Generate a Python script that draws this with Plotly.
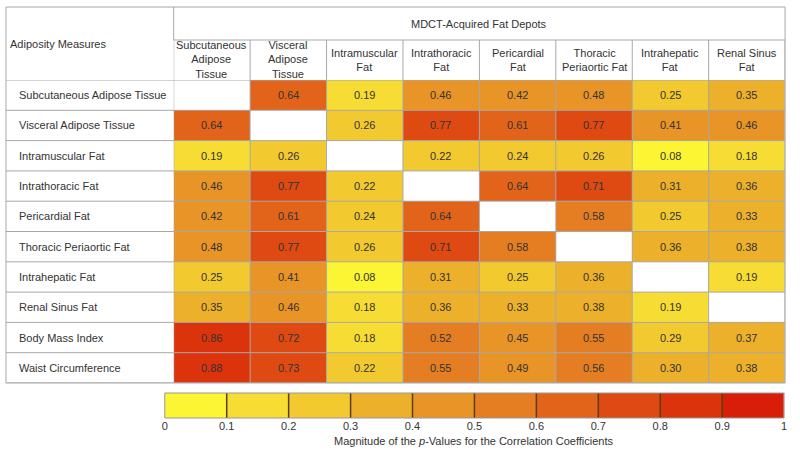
import plotly.graph_objects as go

# ---------------- data ----------------
depots = ["Subcutaneous<br>Adipose<br>Tissue", "Visceral<br>Adipose<br>Tissue", "Intramuscular<br>Fat",
          "Intrathoracic<br>Fat", "Pericardial<br>Fat", "Thoracic<br>Periaortic Fat",
          "Intrahepatic<br>Fat", "Renal Sinus<br>Fat"]
measures = ["Subcutaneous Adipose Tissue", "Visceral Adipose Tissue", "Intramuscular Fat",
            "Intrathoracic Fat", "Pericardial Fat", "Thoracic Periaortic Fat", "Intrahepatic Fat",
            "Renal Sinus Fat", "Body Mass Index", "Waist Circumference"]
row_sat = [None, 0.64, 0.19, 0.46, 0.42, 0.48, 0.25, 0.35]
row_vat = [0.64, None, 0.26, 0.77, 0.61, 0.77, 0.41, 0.46]
row_imf = [0.19, 0.26, None, 0.22, 0.24, 0.26, 0.08, 0.18]
row_itf = [0.46, 0.77, 0.22, None, 0.64, 0.71, 0.31, 0.36]
row_pcf = [0.42, 0.61, 0.24, 0.64, None, 0.58, 0.25, 0.33]
row_tpf = [0.48, 0.77, 0.26, 0.71, 0.58, None, 0.36, 0.38]
row_ihf = [0.25, 0.41, 0.08, 0.31, 0.25, 0.36, None, 0.19]
row_rsf = [0.35, 0.46, 0.18, 0.36, 0.33, 0.38, 0.19, None]
row_bmi = [0.86, 0.72, 0.18, 0.52, 0.45, 0.55, 0.29, 0.37]
row_wc = [0.88, 0.73, 0.22, 0.55, 0.49, 0.56, 0.30, 0.38]
z = [row_sat, row_vat, row_imf, row_itf, row_pcf, row_tpf, row_ihf, row_rsf, row_bmi, row_wc]

scale_bins = [0.05, 0.15, 0.25, 0.35, 0.45, 0.55, 0.65, 0.75, 0.85, 0.95]
scale_ticks = [0, 0.1, 0.2, 0.3, 0.4, 0.5, 0.6, 0.7, 0.8, 0.9, 1]
scale_ticklabels = ["0", "0.1", "0.2", "0.3", "0.4", "0.5", "0.6", "0.7", "0.8", "0.9", "1"]

# ---------------- styles ----------------
bin_colors = ["#fbf534", "#f7dc33", "#f2c92f", "#ecb02a", "#e89427", "#e57e22",
              "#e2641a", "#de4a12", "#db330c", "#d81d08"]
colorscale = []
for i, c in enumerate(bin_colors):
    colorscale.append([i / 10, c])
    colorscale.append([(i + 1) / 10, c])

FONT = "Liberation Sans, Arial, Helvetica, sans-serif"
TXT = "#333333"
GRID = "#a8a8a8"
FS = 11

W, H = 800, 455
def px(x): return x / W
def py(y): return 1 - y / H

text = [["" if v is None else f"{v:.2f}" for v in row] for row in z]

fig = go.Figure()
fig.add_trace(go.Heatmap(
    z=z, x=list(range(len(depots))), y=list(range(len(measures))),
    text=text, texttemplate="%{text}",
    textfont=dict(family=FONT, size=FS, color=TXT),
    colorscale=colorscale, zmin=0, zmax=1, showscale=False,
    hoverongaps=False, xaxis="x", yaxis="y"))

# colour key as its own heatmap
fig.add_trace(go.Heatmap(
    z=[scale_bins], x=scale_bins, y=[0],
    colorscale=colorscale, zmin=0, zmax=1, showscale=False,
    xaxis="x2", yaxis="y2", hoverinfo="skip"))

x_left, x_split, x_right = 3, 172, 788
y_top, y_mid, y_data, y_bot = 7, 40, 80, 383

fig.update_layout(
    width=W, height=H, margin=dict(l=0, r=0, t=0, b=0),
    paper_bgcolor="white", plot_bgcolor="white",
    font=dict(family=FONT, color=TXT),
    xaxis=dict(domain=[px(x_split), px(x_right)], range=[-0.5, 7.5], showticklabels=False,
               showgrid=False, zeroline=False, ticks=""),
    yaxis=dict(domain=[py(y_bot), py(y_data)], range=[9.5, -0.5], showticklabels=False,
               showgrid=False, zeroline=False, ticks=""),
    xaxis2=dict(domain=[px(163), px(787)], range=[0, 1], anchor="y2",
                tickvals=scale_ticks, ticktext=scale_ticklabels, ticks="",
                tickfont=dict(size=FS, color=TXT, family=FONT),
                showgrid=False, zeroline=False),
    yaxis2=dict(domain=[py(418), py(393)], range=[-0.5, 0.5], anchor="x2",
                showticklabels=False, showgrid=False, zeroline=False, ticks=""),
)

shapes = []
line = dict(color=GRID, width=1)
for r in range(len(measures) + 1):
    shapes.append(dict(type="line", xref="paper", yref="y", x0=px(x_left), x1=px(x_right),
                       y0=r - 0.5, y1=r - 0.5, line=line, layer="above"))
for c in range(len(depots) + 1):
    shapes.append(dict(type="line", xref="x", yref="paper", x0=c - 0.5, x1=c - 0.5,
                       y0=py(y_bot), y1=py(y_mid), line=line, layer="above"))
shapes += [
    dict(type="line", xref="paper", yref="paper", x0=px(x_split), x1=px(x_right), y0=py(y_mid), y1=py(y_mid), line=line),
    dict(type="line", xref="paper", yref="paper", x0=px(x_split), x1=px(x_split), y0=py(y_top), y1=py(y_mid), line=line),
    dict(type="rect", xref="paper", yref="paper", x0=px(x_left), x1=px(x_right), y0=py(y_bot), y1=py(y_top),
         line=dict(color=GRID, width=1)),
]
for t in scale_ticks[1:-1]:
    shapes.append(dict(type="line", xref="x2", yref="y2 domain", x0=t, x1=t, y0=0, y1=1,
                       line=dict(color="#5a3d12", width=1.5), layer="above"))
shapes.append(dict(type="rect", xref="x2 domain", yref="y2 domain", x0=0, x1=1, y0=0, y1=1,
                   line=dict(color="#999999", width=1), layer="above"))
fig.update_layout(shapes=shapes)

ann = []
for i, m in enumerate(measures):
    ann.append(dict(text=m, xref="paper", yref="y", x=px(14), y=i, xanchor="left", yanchor="middle",
                    showarrow=False, font=dict(size=FS, color=TXT)))
for j, d in enumerate(depots):
    ann.append(dict(text=d, xref="x", yref="paper", x=j, y=py(60), xanchor="center", yanchor="middle",
                    showarrow=False, font=dict(size=FS, color=TXT)))
ann.append(dict(text="Adiposity Measures", xref="paper", yref="paper", x=px(5), y=py(44),
                xanchor="left", yanchor="middle", showarrow=False, font=dict(size=FS, color=TXT)))
ann.append(dict(text="MDCT-Acquired Fat Depots", xref="paper", yref="paper", x=px(480), y=py(24),
                xanchor="center", yanchor="middle", showarrow=False, font=dict(size=FS, color=TXT)))
ann.append(dict(text="Magnitude of the <i>p</i>-Values for the Correlation Coefficients",
                xref="paper", yref="paper", x=px(475), y=py(441), xanchor="center", yanchor="middle",
                showarrow=False, font=dict(size=FS, color=TXT)))
fig.update_layout(annotations=ann)

fig.write_html("out.html", config={"displayModeBar": False},
               post_script="document.body.style.margin='0';")
